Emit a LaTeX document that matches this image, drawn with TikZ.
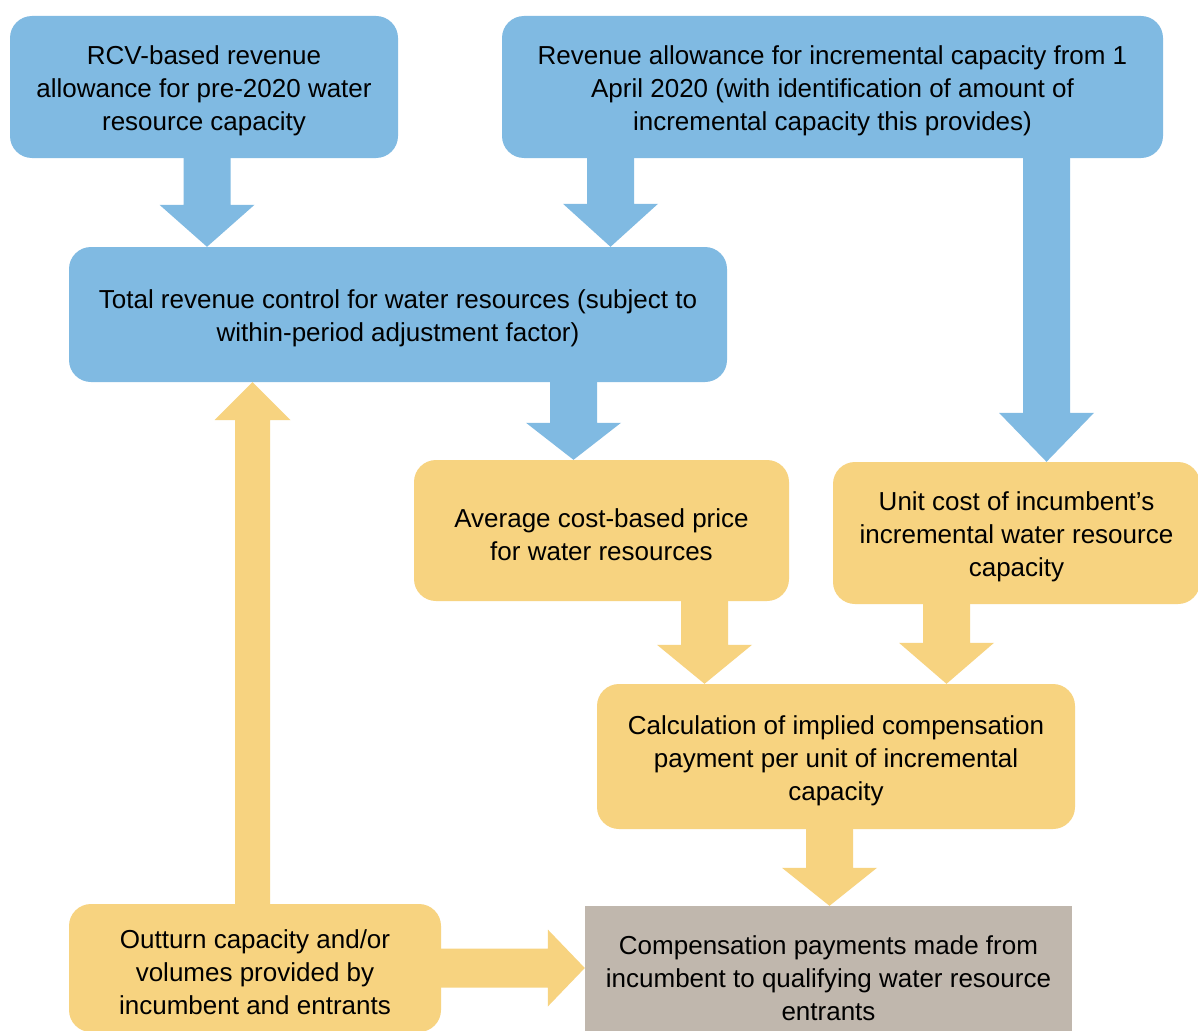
\documentclass[tikz,border=0pt]{standalone}
\usepackage{fontspec}
\setmainfont{Liberation Sans}
\usetikzlibrary{calc}
\definecolor{wblue}{RGB}{128,186,226}
\definecolor{wyellow}{RGB}{247,211,128}
\definecolor{wgrey}{RGB}{192,183,173}
\newcommand\arrDown[4]{%
  \fill[#4] let \p1=(#1), \p2=(#2) in
    (\x1-23.5pt,\y1) -- (\x1+23.5pt,\y1) -- (\x1+23.5pt,\y2+#3) -- (\x1+47.5pt,\y2+#3)
    -- (\x1,\y2) -- (\x1-47.5pt,\y2+#3) -- (\x1-23.5pt,\y2+#3) -- cycle;}
\newcommand\arrUp[4]{%
  \fill[#4] let \p1=(#1), \p2=(#2) in
    (\x1-17.5pt,\y1) -- (\x1+17.5pt,\y1) -- (\x1+17.5pt,\y2-#3) -- (\x1+38pt,\y2-#3)
    -- (\x1,\y2) -- (\x1-38pt,\y2-#3) -- (\x1-17.5pt,\y2-#3) -- cycle;}
\newcommand\arrRight[4]{%
  \fill[#4] let \p1=(#1), \p2=(#2) in
    (\x1,\y1+19.5pt) -- (\x1,\y1-19.5pt) -- (\x2-#3,\y1-19.5pt) -- (\x2-#3,\y1-38.5pt)
    -- (\x2,\y1) -- (\x2-#3,\y1+38.5pt) -- (\x2-#3,\y1+19.5pt) -- cycle;}
\tikzset{
  box/.style={rectangle, inner sep=0pt},
  bluebox/.style={box, fill=wblue, rounded corners=22pt},
  yelbox/.style={box, fill=wyellow, rounded corners=22pt},
  greybox/.style={box, fill=wgrey},
  txt/.style={inner sep=0pt, align=center, font=\fontsize{26}{33}\selectfont},
}
\begin{document}
\begin{tikzpicture}[x=1pt,y=-1pt]
\clip (0,0) rectangle (1198,1030);
\fill[white] (0,0) rectangle (1198,1030);

\node[bluebox, minimum width=388pt, minimum height=142pt] (rcv) at (204,87) {};
\node[bluebox, minimum width=661pt, minimum height=142pt] (rev) at (832.5,87) {};
\node[bluebox, minimum width=658pt, minimum height=135pt] (tot) at (398,314.5) {};
\node[yelbox, minimum width=375pt, minimum height=141pt] (avg) at (601.5,530.5) {};
\node[yelbox, minimum width=367pt, minimum height=142pt] (unit) at (1016.5,533) {};
\node[yelbox, minimum width=478pt, minimum height=145pt] (calc) at (836,756.5) {};
\node[yelbox, minimum width=372pt, minimum height=128pt] (out) at (255,968) {};
\node[greybox, minimum width=487pt, minimum height=136pt] (comp) at (828.5,974) {};

\node[txt] (rcvT) at ([yshift=-4pt]rcv.center)
  {RCV-based revenue\\allowance for pre-2020 water\\resource capacity};
\node[txt] (revT) at ([yshift=-4pt]rev.center)
  {Revenue allowance for incremental capacity from 1\\April 2020 (with identification of amount of\\incremental capacity this provides)};
\node[txt] (totT) at ([yshift=-4pt]tot.center)
  {Total revenue control for water resources (subject to\\within-period adjustment factor)};
\node[txt] (avgT) at ([yshift=-4pt]avg.center)
  {Average cost-based price\\for water resources};
\node[txt] (unitT) at ([yshift=-4pt]unit.center)
  {Unit cost of incumbent's\\incremental water resource\\capacity};
\node[txt] (calcT) at ([yshift=-4pt]calc.center)
  {Calculation of implied compensation\\payment per unit of incremental\\capacity};
\node[txt] (outT) at ([yshift=-4pt]out.center)
  {Outturn capacity and/or\\volumes provided by\\incumbent and entrants};
\node[txt] (compT) at ([yshift=-4pt]comp.center)
  {Compensation payments made from\\incumbent to qualifying water resource\\entrants};

\coordinate (x1) at (207,0);
\coordinate (x2) at (610.5,0);
\coordinate (x3) at (1046.5,0);
\coordinate (x4) at (573.5,0);
\coordinate (x5) at (704.5,0);
\coordinate (x6) at (946.5,0);
\coordinate (x7) at (829.5,0);
\coordinate (x8) at (252.5,0);

\arrDown{rcv.south -| x1}{tot.north -| x1}{42pt}{wblue}
\arrDown{rev.south -| x2}{tot.north -| x2}{43pt}{wblue}
\arrDown{rev.south -| x3}{unit.north -| x3}{49pt}{wblue}
\arrDown{tot.south -| x4}{avg.north -| x4}{37pt}{wblue}
\arrDown{avg.south -| x5}{calc.north -| x5}{39pt}{wyellow}
\arrDown{unit.south -| x6}{calc.north -| x6}{41pt}{wyellow}
\arrDown{calc.south -| x7}{comp.north -| x7}{38pt}{wyellow}
\arrUp{out.north -| x8}{tot.south -| x8}{38pt}{wyellow}
\arrRight{out.east}{comp.west |- out.east}{37pt}{wyellow}
\end{tikzpicture}
\end{document}
